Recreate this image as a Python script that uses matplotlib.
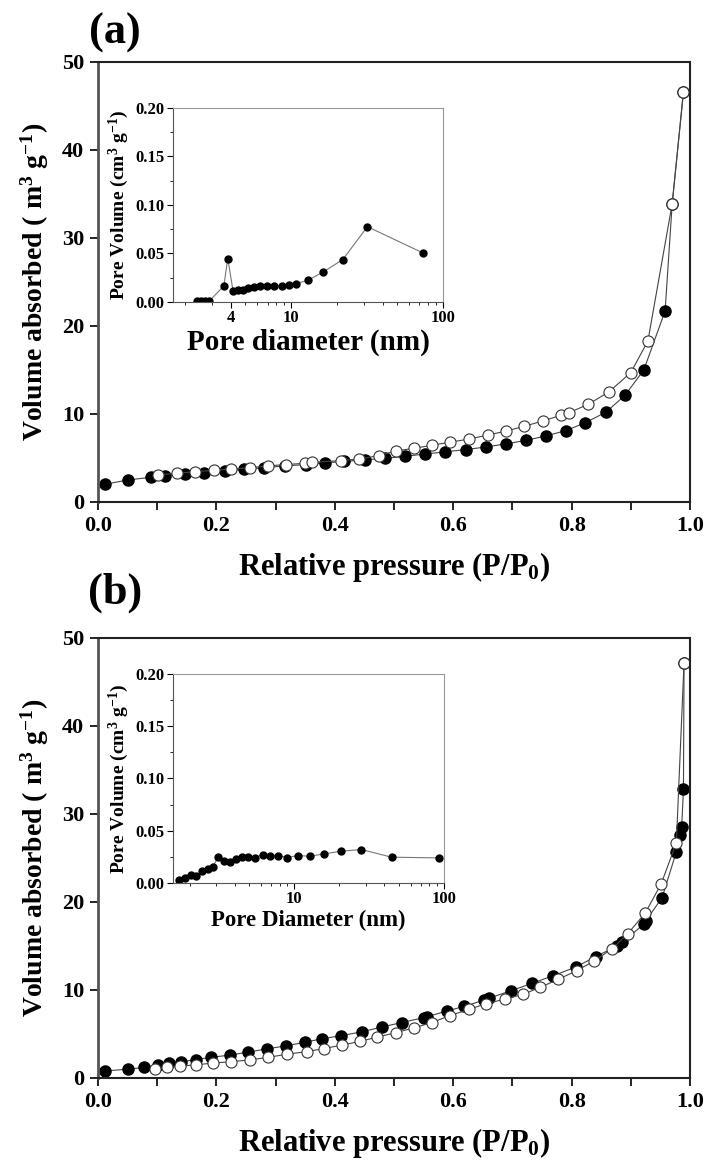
import numpy as np
import matplotlib.pyplot as plt
from matplotlib.ticker import MultipleLocator, LogLocator, NullFormatter

plt.rcParams['font.family'] = ['Liberation Serif', 'DejaVu Serif']
plt.rcParams['font.weight'] = 'bold'
plt.rcParams['mathtext.fontset'] = 'custom'
plt.rcParams['mathtext.rm'] = 'Liberation Serif:bold'
plt.rcParams['mathtext.it'] = 'Liberation Serif:bold'
plt.rcParams['mathtext.bf'] = 'Liberation Serif:bold'
plt.rcParams['mathtext.default'] = 'rm'

# (a) adsorption (filled) / desorption (open)
p_ads_a = [0.011, 0.05, 0.089, 0.113, 0.147, 0.179, 0.214, 0.247, 0.281, 0.316, 0.351, 0.384,
           0.416, 0.451, 0.485, 0.519, 0.553, 0.587, 0.621, 0.655, 0.689, 0.723, 0.756, 0.79,
           0.823, 0.858, 0.89, 0.922, 0.958, 0.97, 0.989]
v_ads_a = [2.0, 2.5, 2.8, 3.0, 3.2, 3.35, 3.55, 3.7, 3.9, 4.1, 4.25, 4.45,
           4.6, 4.8, 4.95, 5.2, 5.45, 5.7, 5.95, 6.25, 6.6, 7.0, 7.5, 8.1,
           9.0, 10.2, 12.1, 15.0, 21.7, 33.9, 46.6]
p_des_a = [0.102, 0.133, 0.164, 0.196, 0.225, 0.256, 0.287, 0.317, 0.35, 0.361, 0.411, 0.441,
           0.474, 0.503, 0.534, 0.565, 0.595, 0.627, 0.658, 0.689, 0.72, 0.751, 0.782, 0.796,
           0.828, 0.863, 0.9, 0.929, 0.97, 0.989]
v_des_a = [3.1, 3.25, 3.45, 3.6, 3.75, 3.9, 4.1, 4.25, 4.4, 4.5, 4.7, 4.9,
           5.25, 5.8, 6.1, 6.45, 6.8, 7.15, 7.6, 8.05, 8.6, 9.2, 9.85, 10.15,
           11.1, 12.5, 14.7, 18.3, 33.9, 46.6]

# (a) inset: pore size distribution
d_a = [2.39, 2.54, 2.72, 2.89, 3.61, 3.83, 4.15, 4.45, 4.81, 5.24, 5.71, 6.25, 6.92, 7.73,
       8.77, 9.7, 10.8, 12.9, 16.3, 21.9, 31.8, 73.5]
pv_a = [0.001, 0.0015, 0.001, 0.0008, 0.0166, 0.0448, 0.0114, 0.012, 0.0128, 0.0148, 0.0155,
        0.0162, 0.0166, 0.0169, 0.0169, 0.018, 0.019, 0.0224, 0.031, 0.0438, 0.0776, 0.0507]

# (b) adsorption (filled) / desorption (open)
p_ads_b = [0.011, 0.051, 0.078, 0.101, 0.12, 0.141, 0.166, 0.191, 0.223, 0.254, 0.285, 0.317,
           0.349, 0.378, 0.41, 0.446, 0.48, 0.513, 0.55, 0.555, 0.589, 0.619, 0.652, 0.66,
           0.697, 0.733, 0.768, 0.807, 0.841, 0.877, 0.886, 0.922, 0.925, 0.953, 0.977, 0.984,
           0.986, 0.989, 0.99]
v_ads_b = [0.8, 1.0, 1.2, 1.45, 1.65, 1.85, 2.1, 2.35, 2.6, 2.95, 3.3, 3.65,
           4.05, 4.45, 4.8, 5.25, 5.8, 6.3, 6.85, 6.95, 7.6, 8.15, 8.85, 9.05,
           9.9, 10.75, 11.6, 12.6, 13.8, 15.0, 15.4, 17.5, 17.8, 20.5, 25.7, 27.6,
           28.5, 32.8, 47.2]
p_des_b = [0.097, 0.116, 0.139, 0.166, 0.195, 0.225, 0.256, 0.288, 0.319, 0.353, 0.382, 0.413,
           0.442, 0.472, 0.503, 0.534, 0.564, 0.595, 0.627, 0.656, 0.687, 0.718, 0.747, 0.777,
           0.809, 0.838, 0.869, 0.895, 0.924, 0.951, 0.977, 0.99]
v_des_b = [1.0, 1.2, 1.35, 1.5, 1.7, 1.85, 2.05, 2.35, 2.7, 3.0, 3.35, 3.75,
           4.15, 4.65, 5.15, 5.7, 6.3, 7.1, 7.8, 8.45, 8.95, 9.5, 10.3, 11.2,
           12.2, 13.3, 14.7, 16.4, 18.7, 22.0, 26.7, 47.2]

# (b) inset: pore size distribution
d_b = [1.71, 1.86, 2.05, 2.22, 2.43, 2.64, 2.85, 3.12, 3.39, 3.73, 4.08, 4.45, 4.91, 5.46,
       6.14, 6.87, 7.82, 9.0, 10.6, 12.7, 15.9, 20.4, 28.1, 44.7, 93.1]
pv_b = [0.0026, 0.0048, 0.008, 0.0067, 0.0112, 0.0131, 0.0154, 0.0253, 0.0208, 0.0202, 0.0228,
        0.025, 0.0247, 0.0244, 0.0272, 0.0263, 0.0263, 0.0244, 0.0263, 0.0256, 0.0279, 0.0304,
        0.032, 0.0247, 0.024]

fig = plt.figure(figsize=(7.07, 11.62), dpi=100)


def main_panel(rect, p1, v1, p2, v2):
    ax = fig.add_axes(rect)
    ax.plot(p1, v1, '-o', color='#444444', lw=0.8, ms=8, mfc='black', mec='black')
    ax.plot(p2, v2, '-o', color='#444444', lw=0.8, ms=8, mfc='white', mec='#333333', mew=0.8)
    ax.set_xlim(0, 1.0)
    ax.set_ylim(0, 50)
    ax.xaxis.set_major_locator(MultipleLocator(0.2))
    ax.xaxis.set_minor_locator(MultipleLocator(0.1))
    ax.yaxis.set_major_locator(MultipleLocator(10))
    ax.tick_params(which='both', direction='out', length=6, width=1.2, labelsize=16, pad=4)
    ax.tick_params(top=False, right=False)
    for s in ax.spines.values():
        s.set_linewidth(1.5)
        s.set_color('#222222')
    ax.spines['left'].set_color('#555555')
    ax.spines['left'].set_linewidth(2)
    ax.set_xlabel('Relative pressure (P/P$_0$)', fontsize=22, fontweight='bold', labelpad=10)
    ax.set_ylabel('Volume absorbed ( m$^3$ g$^{-1}$)', fontsize=20, fontweight='bold', labelpad=8)
    ax.xaxis.set_major_formatter(plt.FuncFormatter(lambda x, pos: '%.1f' % x))
    return ax


def inset_panel(rect, d, pv, xmin, xticks, xlab, xlabsize):
    ax = fig.add_axes(rect)
    ax.plot(d, pv, '-o', color='#777777', lw=0.8, ms=5, mfc='black', mec='black')
    ax.set_xscale('log')
    ax.set_xlim(xmin, 100)
    ax.set_ylim(0, 0.2)
    ax.set_xticks(xticks)
    ax.set_xticklabels([str(t) for t in xticks])
    ax.xaxis.set_minor_locator(LogLocator(base=10, subs=np.arange(2, 10)))
    ax.xaxis.set_minor_formatter(NullFormatter())
    ax.yaxis.set_major_locator(MultipleLocator(0.05))
    ax.yaxis.set_minor_locator(MultipleLocator(0.025))
    ax.yaxis.set_major_formatter(plt.FuncFormatter(lambda y, pos: '%.2f' % y))
    ax.tick_params(which='major', direction='out', length=4, width=0.8, labelsize=12, pad=2)
    ax.tick_params(which='minor', direction='out', length=2.5, width=0.6)
    ax.tick_params(which='both', top=False, right=False)
    for s in ax.spines.values():
        s.set_linewidth(0.8)
        s.set_color('#999999')
    ax.spines['left'].set_color('#555555')
    ax.spines['bottom'].set_color('#555555')
    ax.set_xlabel(xlab, fontsize=xlabsize, fontweight='bold', labelpad=2)
    ax.set_ylabel('Pore Volume (cm$^3$ g$^{-1}$)', fontsize=14, fontweight='bold', labelpad=3)
    return ax


#Панель (a)
main_panel([0.1386, 0.568, 0.8373, 0.3787], p_ads_a, v_ads_a, p_des_a, v_des_a)
inset_panel([0.2447, 0.7401, 0.3819, 0.167], d_a, pv_a, 1.67, [4, 10, 100],
            'Pore diameter (nm)', 21)
fig.text(0.163, 0.972, '(a)', fontsize=32, fontweight='bold', ha='center', va='center')

#Панель (b)
main_panel([0.1386, 0.0723, 0.8373, 0.3787], p_ads_b, v_ads_b, p_des_b, v_des_b)
inset_panel([0.2447, 0.2401, 0.3833, 0.1799], d_b, pv_b, 1.55, [10, 100],
            'Pore Diameter (nm)', 16.5)
fig.text(0.163, 0.490, '(b)', fontsize=32, fontweight='bold', ha='center', va='center')

fig.savefig('out.png', dpi=100)
